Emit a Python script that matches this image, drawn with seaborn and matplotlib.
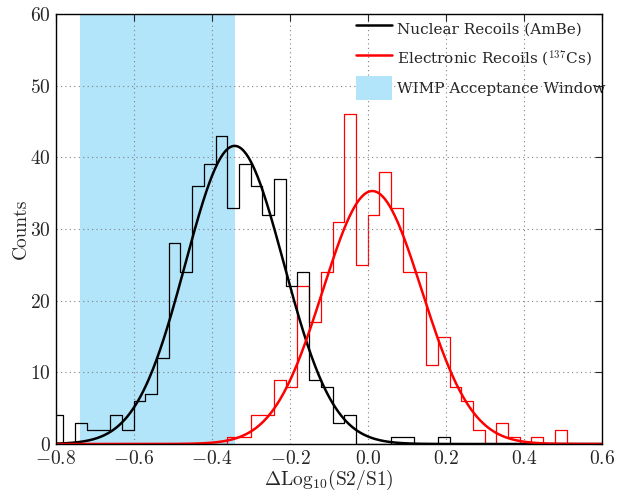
import numpy as np
import pandas as pd
import matplotlib
matplotlib.use("Agg")
import matplotlib.pyplot as plt
from matplotlib.lines import Line2D
from matplotlib.patches import Patch
import seaborn as sns

# ---- data ----
bin_start = -0.811
bin_width = 0.03
nr_counts = [4, 0, 3, 2, 2, 4, 2, 6, 7, 12, 28, 24, 36, 39, 43, 33, 39, 36, 32, 37,
             22, 24, 9, 8, 3, 4, 0, 0, 0, 1, 1, 0, 0, 1, 0, 0, 0, 0, 0, 0,
             0, 0, 0, 0, 0, 0, 0, 0]
er_counts = [0, 0, 0, 0, 0, 0, 0, 0, 0, 0, 0, 0, 0, 0, 0, 1, 1, 4, 4, 9,
             8, 22, 17, 24, 31, 46, 25, 32, 38, 33, 24, 24, 11, 15, 8, 6, 2, 0, 3, 1,
             0, 1, 0, 2, 0, 0, 0, 0]
nr_fit = dict(amp=41.6, mu=-0.342, sigma=0.126)
er_fit = dict(amp=35.3, mu=0.011, sigma=0.127)
wimp_window = (-0.738, -0.340)

labels = ["Nuclear Recoils (AmBe)", r"Electronic Recoils ($^{137}$Cs)", "WIMP Acceptance Window"]

# ---- style ----
sns.set_style("white")
plt.rcParams["font.family"] = ["cmr10", "DejaVu Serif"]
plt.rcParams["mathtext.fontset"] = "cm"
plt.rcParams["axes.formatter.use_mathtext"] = True
plt.rcParams["axes.unicode_minus"] = True

nb = len(nr_counts)
edges = bin_start + bin_width * np.arange(nb + 1)
centers = (edges[:-1] + edges[1:]) / 2
df = pd.DataFrame({"x": centers, "nr": nr_counts, "er": er_counts})

fig = plt.figure(figsize=(6.26, 4.91), dpi=100)
ax = fig.add_axes([0.0895, 0.0957, 0.8722, 0.8758])

ax.axvspan(*wimp_window, color="#B2E4FA", lw=0, zorder=0)

binrange = (float(edges[0]), float(edges[-1]))
sns.histplot(data=df, x="x", weights="er", binwidth=bin_width, binrange=binrange,
             element="step", fill=False, color="red", linewidth=0.9, ax=ax, zorder=2)
sns.histplot(data=df, x="x", weights="nr", binwidth=bin_width, binrange=binrange,
             element="step", fill=False, color="black", linewidth=0.9, ax=ax, zorder=3)

xs = np.linspace(-0.8, 0.6, 600)
def gauss(p):
    return p["amp"] * np.exp(-(xs - p["mu"]) ** 2 / (2 * p["sigma"] ** 2))

sns.lineplot(x=xs, y=gauss(nr_fit), color="black", linewidth=1.8, ax=ax, zorder=4)
sns.lineplot(x=xs, y=gauss(er_fit), color="red", linewidth=1.8, ax=ax, zorder=5)

ax.set_xlim(-0.8, 0.6)
ax.set_ylim(0, 60)
ax.set_xticks(np.arange(-0.8, 0.61, 0.2))
ax.set_yticks(np.arange(0, 61, 10))
ax.grid(True, linestyle=(0, (1, 3)), color="#808080", linewidth=0.8, zorder=1)
ax.set_axisbelow(False)
for s in ax.spines.values():
    s.set_color("black")
    s.set_linewidth(1.0)
    s.set_zorder(6)
ax.tick_params(direction="in", top=True, right=True, length=5, width=0.8,
               labelsize=14, pad=4)
ax.set_xlabel(r"$\Delta$Log$_{10}$(S2/S1)", fontsize=14, labelpad=0)
ax.set_ylabel("Counts", fontsize=14, labelpad=0)

handles = [Line2D([], [], color="black", lw=1.8),
           Line2D([], [], color="red", lw=1.8),
           Patch(facecolor="#B2E4FA", edgecolor="none")]
leg = ax.legend(handles, labels, loc="upper left", bbox_to_anchor=(0.549, 0.993),
                frameon=False, prop={"family": "DejaVu Serif", "size": 11},
                handlelength=2.4, handleheight=2.0,
                handletextpad=0.27, labelspacing=0.4, borderpad=0, borderaxespad=0)

fig.savefig("out.png", dpi=100)
